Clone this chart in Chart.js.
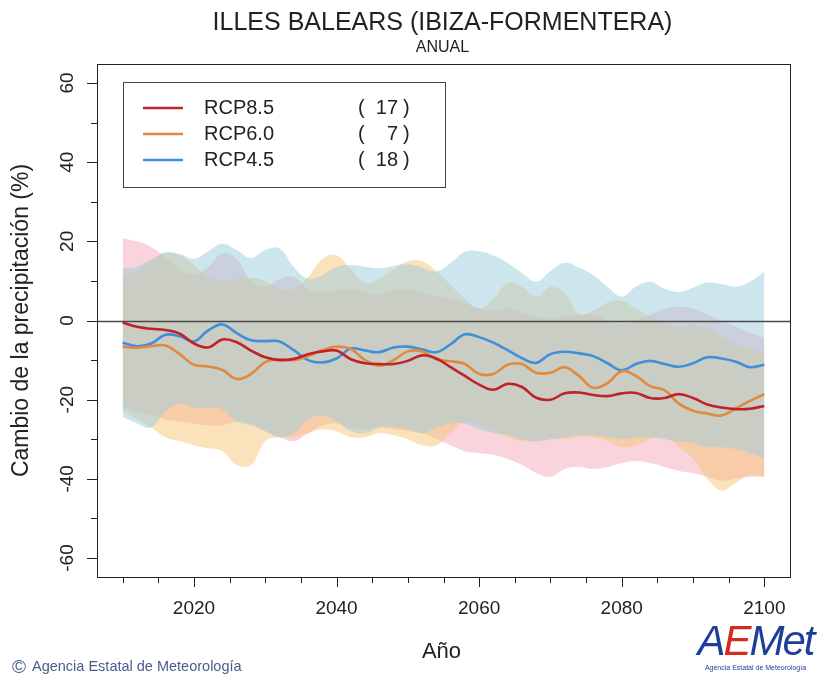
<!DOCTYPE html>
<html>
<head>
<meta charset="utf-8">
<script src="https://cdn.jsdelivr.net/npm/chart.js@4.4.0/dist/chart.umd.min.js"></script>
<style>
  body { margin: 0; background: #fff; }
  #wrap { position: relative; width: 817px; height: 680px; }
  #copy { position: absolute; left: 12px; top: 656px; font: 14.5px 'Liberation Sans', Arial, sans-serif; color: #4a5c8e; }
  #copy span { font-size: 19px; vertical-align: -2px; margin-right: 6px; }
  #logo { position: absolute; left: 694px; top: 619px; width: 123px; text-align: center; font-family: 'Liberation Sans', Arial, sans-serif; }
  #logo .big { font-size: 42px; font-style: italic; letter-spacing: -2px; line-height: 44px; color: #1d3f9a; }
  #logo .big b { color: #d62a1e; font-weight: normal; }
  #logo .small { font-size: 7px; color: #1d3f9a; margin-top: 1px; }
</style>
</head>
<body>
<div id="wrap">
  <canvas id="chart" width="817" height="680"></canvas>
  <div id="copy"><span>©</span>Agencia Estatal de Meteorología</div>
  <div id="logo"><div class="big">A<b>E</b>Met</div><div class="small">Agencia Estatal de Meteorología</div></div>
</div>
<script>
const years = [2010, 2012, 2014, 2016, 2018, 2020, 2022, 2024, 2026, 2028,
  2030, 2032, 2034, 2036, 2038, 2040, 2042, 2044, 2046, 2048,
  2050, 2052, 2054, 2056, 2058, 2060, 2062, 2064, 2066, 2068,
  2070, 2072, 2074, 2076, 2078, 2080, 2082, 2084, 2086, 2088,
  2090, 2092, 2094, 2096, 2098, 2100];

// ensemble means
const rcp85 = [-0.5, -1.6, -2.1, -2.4, -3.3, -5.8, -6.8, -4.8, -5.5, -7.6,
  -9.3, -10.0, -9.7, -8.5, -7.8, -7.6, -9.8, -10.8, -11.0, -11.0,
  -10.2, -8.8, -9.6, -11.8, -14.0, -16.2, -17.5, -16.0, -16.8, -19.5,
  -20.0, -18.4, -18.2, -18.8, -19.1, -18.4, -18.3, -19.6, -19.6, -18.6,
  -19.6, -21.2, -22.0, -22.4, -22.3, -21.6];
const rcp60 = [-6.6, -6.9, -6.5, -6.3, -8.5, -11.2, -11.6, -12.5, -14.8, -13.5,
  -10.5, -9.8, -10.0, -9.0, -7.5, -6.6, -7.2, -10.0, -11.4, -10.0,
  -7.8, -7.8, -9.8, -10.3, -11.0, -13.5, -13.5, -11.2, -11.0, -13.2,
  -13.2, -11.8, -14.0, -17.0, -15.8, -12.8, -14.0, -16.6, -17.6, -21.0,
  -22.8, -23.5, -24.0, -22.2, -20.3, -18.6];
const rcp45 = [-5.6, -6.5, -5.8, -3.6, -4.0, -5.3, -2.5, -1.0, -3.2, -5.0,
  -5.2, -5.3, -7.5, -10.0, -10.6, -9.6, -7.1, -7.6, -8.0, -6.8,
  -6.6, -7.3, -8.0, -6.0, -3.5, -4.2, -5.6, -7.5, -9.5, -10.7,
  -8.5, -7.9, -8.3, -9.0, -10.8, -12.6, -11.0, -10.2, -11.0, -11.7,
  -10.8, -9.3, -9.6, -10.4, -11.8, -11.2];

// spread bands (upper / lower)
const rcp85Hi = [20.8, 20.0, 18.6, 16.0, 13.0, 11.5, 13.5, 17.0, 15.5, 10.0,
  8.5, 10.5, 11.0, 8.0, 7.0, 7.5, 8.0, 7.0, 6.5, 7.5,
  8.0, 7.0, 6.0, 5.5, 4.5, 3.0, 2.5, 3.0, 2.0, 1.0,
  0.5, 1.0, 1.5, 1.5, 0.0, -1.0, 0.0, 1.5, 3.0, 3.5,
  3.0, 1.5, 0.0, -1.5, -3.0, -4.4];
const rcp85Lo = [-22.0, -23.0, -24.0, -25.0, -25.5, -26.0, -26.5, -26.5, -25.5, -26.0,
  -28.0, -29.5, -30.5, -28.5, -26.5, -26.0, -27.0, -27.5, -27.0, -27.5,
  -28.0, -28.5, -30.0, -31.5, -33.0, -33.5, -34.0, -35.0, -36.5, -38.5,
  -39.5, -37.5, -37.0, -37.5, -37.0, -36.0, -35.5, -36.0, -37.0, -38.0,
  -38.5, -39.5, -40.5, -40.0, -39.5, -39.5];
const rcp60Hi = [11.5, 12.5, 15.0, 17.0, 16.5, 14.0, 11.0, 10.0, 10.5, 10.8,
  10.0, 8.0, 8.0, 11.0, 15.5, 16.5, 13.0, 9.5, 10.5, 13.0,
  15.0, 15.0, 12.5, 9.0, 5.5, 3.0, 5.5, 9.5, 8.5, 6.0,
  8.5, 7.0, 1.5, 2.5, 4.5, 5.0, 3.0, 1.0, -0.5, -1.5,
  -1.0, -2.0, -4.0, -6.0, -7.0, -8.0];
const rcp60Lo = [-23.0, -25.0, -27.0, -29.5, -30.5, -31.5, -32.3, -33.0, -36.5, -36.5,
  -30.5, -29.5, -29.5, -28.5, -27.5, -28.0, -29.5, -29.5, -28.5, -29.0,
  -30.0, -31.5, -31.5, -28.5, -25.5, -26.5, -28.0, -29.5, -30.5, -30.5,
  -30.0, -30.0, -29.5, -29.5, -30.5, -32.0, -31.5, -30.0, -29.5, -32.0,
  -35.0, -40.0, -43.0, -41.0, -39.0, -39.5];
const rcp45Hi = [13.2, 13.6, 15.5, 17.2, 16.8, 15.6, 17.5, 19.4, 17.8, 15.8,
  17.8, 18.2, 13.5, 10.5, 11.5, 13.5, 14.0, 13.6, 13.2, 13.8,
  14.2, 13.4, 12.4, 14.5, 17.3, 17.5, 16.4, 14.5, 12.0, 9.8,
  12.5, 14.6, 13.3, 11.5, 8.5, 6.0, 8.6, 9.8, 8.0, 7.2,
  8.3, 9.6, 9.2, 8.6, 9.8, 12.4];
const rcp45Lo = [-24.4, -26.0, -27.0, -23.0, -21.0, -22.0, -22.0, -22.5, -25.5, -26.5,
  -28.0, -29.5, -28.5, -25.0, -24.0, -25.5, -28.0, -28.5, -27.0, -26.8,
  -27.5, -28.5, -27.0, -26.0, -26.0, -27.5, -28.5, -29.0, -30.0, -30.5,
  -30.0, -29.5, -29.0, -29.0, -29.5, -30.0, -29.5, -29.5, -30.0, -30.5,
  -31.0, -32.0, -32.0, -32.5, -33.5, -35.0];

const seriesNames = ['RCP8.5', 'RCP6.0', 'RCP4.5'];
const modelCounts = [17, 7, 18];
const lineColors = ['#c0222a', '#e08a3e', '#3f8fda'];
const bandColors = ['rgba(242,147,167,0.4)', 'rgba(250,198,120,0.5)', 'rgba(155,205,221,0.5)'];

const yTicks = [-60, -40, -20, 0, 20, 40, 60];
const yMinor = [-50, -30, -10, 10, 30, 50];
const xTicks = [2020, 2040, 2060, 2080, 2100];
const xMinor = [2010, 2015, 2025, 2030, 2035, 2045, 2050, 2055, 2065, 2070, 2075, 2085, 2090, 2095];

const font = "'Liberation Sans', Arial, sans-serif";
const pts = arr => arr.map((v, i) => ({ x: years[i], y: v }));

const lineSet = (data, i) => ({
  data: pts(data), borderColor: lineColors[i], borderWidth: 2.6,
  fill: false, tension: 0.4, order: 0
});
const bandSet = (data, i, order, upper) => ({
  data: pts(data), borderColor: 'rgba(0,0,0,0)', borderWidth: 0,
  backgroundColor: bandColors[i], fill: upper ? '+1' : false, tension: 0.4, order
});

const frame = {
  id: 'frame',
  beforeDatasetDraw(chart, args) {
    // zero line goes over the bands but under the mean lines
    if (args.index !== 2) return;
    const { ctx, chartArea: a, scales: { y } } = chart;
    const py = Math.round(y.getPixelForValue(0)) + 0.5;
    ctx.save();
    ctx.strokeStyle = '#4a4a4a';
    ctx.lineWidth = 1.5;
    ctx.beginPath();
    ctx.moveTo(a.left, py);
    ctx.lineTo(a.right, py);
    ctx.stroke();
    ctx.restore();
  },
  afterDraw(chart) {
    const { ctx, chartArea: a, scales: { x, y } } = chart;
    ctx.save();
    ctx.strokeStyle = '#222';
    ctx.lineWidth = 1;
    ctx.strokeRect(a.left + 0.5, a.top + 0.5, a.right - a.left, a.bottom - a.top);

    ctx.fillStyle = '#222';
    ctx.beginPath();
    yTicks.forEach(v => {
      const py = Math.round(y.getPixelForValue(v)) + 0.5;
      ctx.moveTo(a.left - 10, py); ctx.lineTo(a.left, py);
    });
    yMinor.forEach(v => {
      const py = Math.round(y.getPixelForValue(v)) + 0.5;
      ctx.moveTo(a.left - 6, py); ctx.lineTo(a.left, py);
    });
    xTicks.forEach(v => {
      const px = Math.round(x.getPixelForValue(v)) + 0.5;
      ctx.moveTo(px, a.bottom); ctx.lineTo(px, a.bottom + 10);
    });
    xMinor.forEach(v => {
      const px = Math.round(x.getPixelForValue(v)) + 0.5;
      ctx.moveTo(px, a.bottom); ctx.lineTo(px, a.bottom + 6);
    });
    ctx.stroke();

    ctx.font = `19px ${font}`;
    ctx.textAlign = 'center';
    ctx.textBaseline = 'middle';
    yTicks.forEach(v => {
      ctx.save();
      ctx.translate(a.left - 29, y.getPixelForValue(v));
      ctx.rotate(-Math.PI / 2);
      ctx.fillText(String(v), 0, 0);
      ctx.restore();
    });
    xTicks.forEach(v => ctx.fillText(String(v), x.getPixelForValue(v), a.bottom + 32));

    const cx = (a.left + a.right) / 2;
    ctx.font = `22px ${font}`;
    ctx.fillText('Año', cx - 2, 652);
    ctx.font = `23px ${font}`;
    ctx.save();
    ctx.translate(22, y.getPixelForValue(0));
    ctx.rotate(-Math.PI / 2);
    ctx.fillText('Cambio de la precipitación (%)', 0, 0);
    ctx.restore();

    ctx.font = `25px ${font}`;
    ctx.fillText('ILLES BALEARS (IBIZA-FORMENTERA)', cx - 1, 23);
    ctx.font = `16px ${font}`;
    ctx.fillText('ANUAL', cx - 1, 48);

    // legend
    ctx.strokeStyle = '#444';
    ctx.strokeRect(123.5, 82.5, 322, 105);
    ctx.font = `20px ${font}`;
    seriesNames.forEach((name, i) => {
      const ly = 108 + i * 26;
      ctx.strokeStyle = lineColors[i];
      ctx.lineWidth = 2.5;
      ctx.beginPath();
      ctx.moveTo(143, ly); ctx.lineTo(183, ly);
      ctx.stroke();
      ctx.textAlign = 'left';
      ctx.fillText(name, 204, ly);
      ctx.fillText('(', 358, ly);
      ctx.fillText(')', 403, ly);
      ctx.textAlign = 'right';
      ctx.fillText(String(modelCounts[i]), 398, ly);
    });
    ctx.restore();
  }
};

new Chart(document.getElementById('chart'), {
  type: 'line',
  data: {
    datasets: [
      lineSet(rcp85, 0),
      lineSet(rcp60, 1),
      lineSet(rcp45, 2),
      bandSet(rcp45Hi, 2, 1, true),
      bandSet(rcp45Lo, 2, 1, false),
      bandSet(rcp60Hi, 1, 2, true),
      bandSet(rcp60Lo, 1, 2, false),
      bandSet(rcp85Hi, 0, 3, true),
      bandSet(rcp85Lo, 0, 3, false)
    ]
  },
  options: {
    responsive: false,
    animation: false,
    devicePixelRatio: 1,
    layout: { padding: { left: 97, top: 64, right: 27, bottom: 103 } },
    elements: { point: { radius: 0 } },
    scales: {
      x: { type: 'linear', min: 2006.4, max: 2103.6, display: false },
      y: { min: -64.8, max: 64.8, display: false }
    },
    plugins: {
      legend: { display: false },
      tooltip: { enabled: false }
    }
  },
  plugins: [frame]
});
</script>
</body>
</html>
